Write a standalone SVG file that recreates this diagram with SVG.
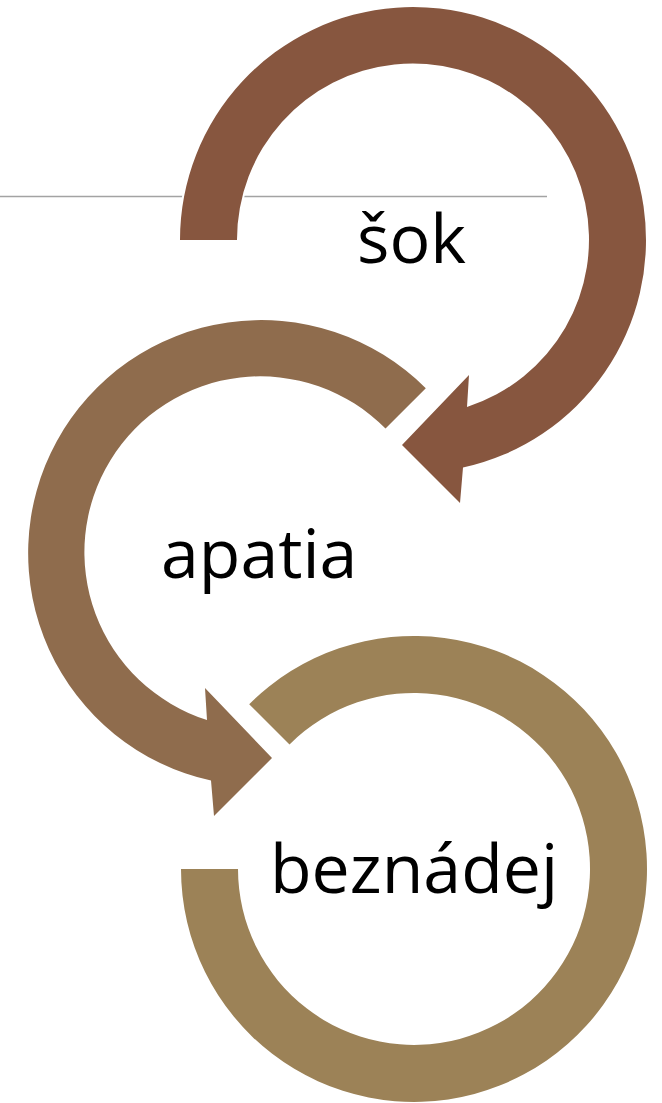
<svg xmlns="http://www.w3.org/2000/svg" width="662" height="1103" viewBox="0 0 662 1103">
<style>
.arrow{stroke:#ffffff;stroke-width:4;paint-order:stroke;stroke-linejoin:miter}
.a1{fill:#87563F}
.a2{fill:#8F6C4D}
.a3{fill:#9C8257}
.lbl{font-family:"Open Sans","Noto Sans",sans-serif;font-size:68px;fill:#000000}
</style>
<rect width="662" height="1103" fill="#ffffff"/>
<g id="rule">
<line x1="0" y1="196.5" x2="547" y2="196.5" stroke="#A3A3A3" stroke-width="1.6"/>
</g>
<g id="connectors"></g>
<g id="node-sok">
<path class="arrow a1" d="M180,240 A233,233 0 1 1 463,467.6 L460,503 L402,445 L469,375 L467,407 A176,176 0 1 0 237,240 Z"/>
<text class="lbl" x="357" y="263">šok</text>
</g>
<g id="node-apatia">
<path class="arrow a2" d="M425.8,388.2 A233,233 0 1 0 211,780.6 L214,816 L272,758 L205,688 L207,720 A176,176 0 1 1 385.5,428.5 Z"/>
<text class="lbl" x="161" y="578">apatia</text>
</g>
<g id="node-beznadej">
<path class="arrow a3" d="M249.2,704.2 A233,233 0 1 1 181,869 L238,869 A176,176 0 1 0 289.5,744.5 Z"/>
<text class="lbl" x="270" y="893">beznádej</text>
</g>
</svg>
